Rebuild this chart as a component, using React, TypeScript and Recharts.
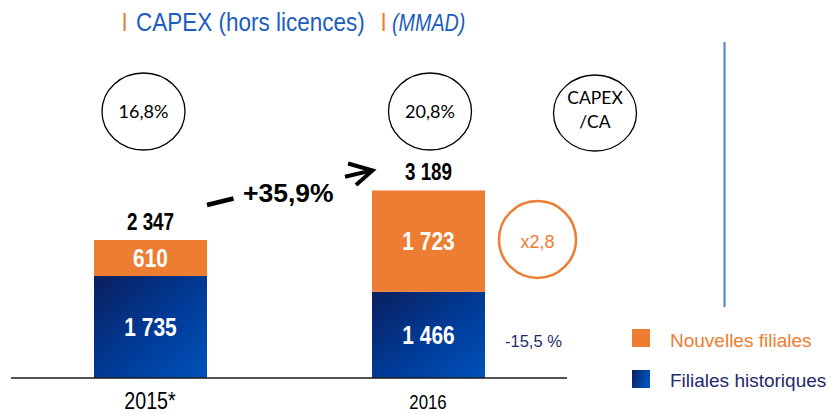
import React from 'react';
import { BarChart, Bar, XAxis, YAxis, LabelList } from 'recharts';

const categories = ['2015*', '2016'];
const historiques = [1735, 1466];
const nouvelles = [610, 1723];
const totals = [2347, 3189];
const ratioLabels = ['16,8%', '20,8%'];
const tickSizes = [24, 20.5];

const data = categories.map((c, i) => ({
  name: c,
  historiques: historiques[i],
  nouvelles: nouvelles[i],
}));

const ORANGE = '#ED7D31';
const NAVY = '#1F2A6E';
const SANS = '"Liberation Sans", Arial, sans-serif';
const CAL = 'Lato, "Open Sans", sans-serif';
const SQUEEZE = 0.82;

const fmt = (v: number) => String(v).replace(/\B(?=(\d{3})+(?!\d))/g, ' ');

const NText = (props: any) => {
  const { x, y, anchor, size, fill, weight, italic, dy, sx, children } = props;
  return (
    <text
      transform={`translate(${x},${y}) scale(${sx || SQUEEZE},1)`}
      x={0}
      y={0}
      dy={dy}
      textAnchor={anchor || 'start'}
      fontFamily={SANS}
      fontSize={size}
      fill={fill}
      fontWeight={weight || 'normal'}
      fontStyle={italic ? 'italic' : 'normal'}
    >
      {children}
    </text>
  );
};

const InnerLabel = (props: any) => {
  const { x, y, width, height, value } = props;
  return (
    <NText x={x + width / 2} y={y + height / 2} dy="0.36em" anchor="middle" fill="#ffffff" weight="bold" size={25.5}>
      {fmt(value)}
    </NText>
  );
};

const TotalLabel = (props: any) => {
  const { x, y, width, index } = props;
  return (
    <NText x={x + width / 2} y={y - 10} anchor="middle" fill="#000000" weight="bold" size={23}>
      {fmt(totals[index])}
    </NText>
  );
};

const Tick = (props: any) => {
  const { x, payload, index } = props;
  return (
    <NText x={x} y={409} anchor="middle" fill="#000000" size={tickSizes[index] || 21}>
      {payload.value}
    </NText>
  );
};

export default function App() {
  return (
    <div style={{ position: 'absolute', left: 0, top: 0, width: 835, height: 414, background: '#fff' }}>
      <BarChart
        width={835}
        height={414}
        data={data}
        margin={{ top: 84, right: 268, bottom: 0, left: 11 }}
      >
        <defs>
          <linearGradient id="blueGrad" x1="0" y1="0" x2="1" y2="1">
            <stop offset="0%" stopColor="#0A1F5E" />
            <stop offset="55%" stopColor="#003C98" />
            <stop offset="100%" stopColor="#0052BA" />
          </linearGradient>
        </defs>
        <XAxis
          dataKey="name"
          height={36}
          tickLine={false}
          axisLine={{ stroke: '#1a1a1a', strokeWidth: 1.5 }}
          tick={<Tick />}
          interval={0}
        />
        <YAxis hide domain={[0, 5000]} />
        <Bar dataKey="historiques" stackId="a" fill="url(#blueGrad)" barSize={113} isAnimationActive={false}>
          <LabelList dataKey="historiques" content={<InnerLabel />} />
        </Bar>
        <Bar dataKey="nouvelles" stackId="a" fill={ORANGE} barSize={113} isAnimationActive={false}>
          <LabelList dataKey="nouvelles" content={<InnerLabel />} />
          <LabelList dataKey="nouvelles" content={<TotalLabel />} />
        </Bar>
      </BarChart>

      <svg
        width={835}
        height={414}
        style={{ position: 'absolute', left: 0, top: 0, pointerEvents: 'none' }}
      >
        <defs>
          <linearGradient id="legGrad" x1="0" y1="0" x2="1" y2="0.3">
            <stop offset="0%" stopColor="#0A1F5E" />
            <stop offset="100%" stopColor="#0052BA" />
          </linearGradient>
        </defs>

        {/* Title */}
        <NText x={121.5} y={31} size={26} sx={0.86} fill={ORANGE}>I</NText>
        <NText x={136} y={31} size={26} sx={0.865} fill="#1C5DBF">CAPEX (hors licences)</NText>
        <NText x={380.5} y={31} size={26} sx={0.86} fill={ORANGE}>I</NText>
        <NText x={392} y={31} size={23.5} sx={0.84} italic fill="#1C5DBF">(MMAD)</NText>

        {/* Ratio circles */}
        <ellipse cx={143.5} cy={111.5} rx={41.5} ry={38.5} fill="none" stroke="#000" strokeWidth={1.3} />
        <text x={143.5} y={117.5} textAnchor="middle" fontFamily={CAL} fontSize={18} fill="#000">{ratioLabels[0]}</text>
        <ellipse cx={430} cy={111.5} rx={41.5} ry={38.5} fill="none" stroke="#000" strokeWidth={1.3} />
        <text x={430} y={117.5} textAnchor="middle" fontFamily={CAL} fontSize={18} fill="#000">{ratioLabels[1]}</text>
        <ellipse cx={595} cy={113} rx={41.5} ry={38} fill="none" stroke="#000" strokeWidth={1.3} />
        <text x={595} y={104} textAnchor="middle" fontFamily={CAL} fontSize={17.5} fill="#000">CAPEX</text>
        <text x={595} y={128} textAnchor="middle" fontFamily={CAL} fontSize={17.5} fill="#000">/CA</text>

        {/* Growth annotation */}
        <line x1={207} x2={233.5} y1={205} y2={198.5} stroke="#000" strokeWidth={4.5} />
        <text x={243} y={202} fontFamily={SANS} fontWeight="bold" fontSize={26.5} fill="#000">+35,9%</text>
        <line x1={345} x2={371} y1={176.8} y2={170.6} stroke="#000" strokeWidth={4} />
        <polyline points="348,163.5 372.5,170.5 356,185" fill="none" stroke="#000" strokeWidth={4} strokeLinejoin="miter" />

        {/* x2,8 */}
        <circle cx={537.5} cy={239.5} r={38.5} fill="none" stroke={ORANGE} strokeWidth={2.5} />
        <text x={537.5} y={248} textAnchor="middle" fontFamily={SANS} fontSize={18} fill={ORANGE}>x2,8</text>

        {/* -15,5 % */}
        <text x={505} y={347} fontFamily={SANS} fontSize={16.5} fill={NAVY}>-15,5 %</text>

        {/* Separator */}
        <line x1={724.5} x2={724.5} y1={42} y2={307} stroke="#4A7FD4" strokeWidth={2} />

        {/* Legend */}
        <rect x={632} y={329} width={18} height={18} fill={ORANGE} />
        <text x={670} y={347} fontFamily={SANS} fontSize={19} fill={ORANGE}>Nouvelles filiales</text>
        <rect x={632} y={370} width={18} height={18} fill="url(#legGrad)" />
        <text x={670} y={386.5} fontFamily={SANS} fontSize={19} fill={NAVY}>Filiales historiques</text>
      </svg>
    </div>
  );
}
